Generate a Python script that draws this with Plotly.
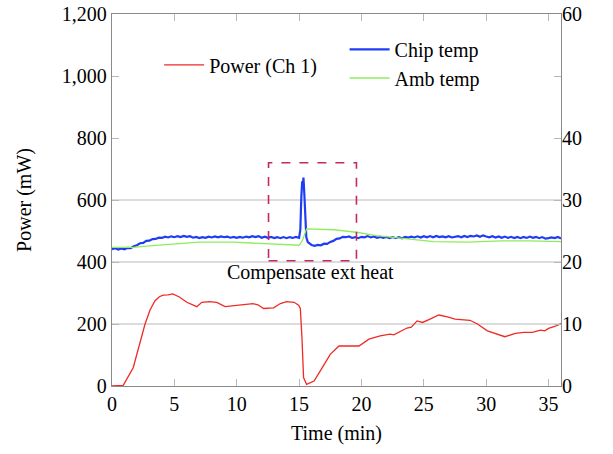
import plotly.graph_objects as go

# ---------------- data ----------------
power_t = [0.0, 0.9, 1.7, 2.2, 2.65, 3.05, 3.45, 3.8, 4.1, 4.5, 4.87, 5.4, 6.0, 6.8, 7.2, 7.8, 8.4,
           9.07, 10.0, 10.9, 11.3, 11.7, 12.15, 12.95, 13.5, 14.0, 14.6, 14.96, 15.1, 15.23, 15.36,
           15.6, 16.2, 16.7, 17.5, 18.2, 18.85, 19.8, 20.6, 21.5, 22.3, 22.6, 23.65, 24.0, 24.46,
           24.9, 25.5, 26.2, 26.9, 27.5, 28.7, 29.3, 30.1, 31.15, 31.5, 32.35, 33.0, 33.7, 34.36,
           34.7, 35.0, 35.5, 36.0]
power_mw = [0, 2, 59, 130, 200, 245, 275, 288, 293, 294, 297, 287, 270, 256, 270, 272, 270,
            256, 261, 264, 266, 262, 250, 252, 266, 272, 270, 261, 250, 156, 27,
            5, 16, 49, 102, 129, 129, 129, 151, 162, 167, 165, 187, 190, 210,
            205, 216, 229, 223, 216, 212, 200, 178, 162, 159, 170, 173, 173, 180,
            178, 186, 192, 201]

chip_t = [0.00, 0.25, 0.50, 0.75, 1.00, 1.25, 1.50, 1.75, 2.00, 2.25, 2.50, 2.75, 3.00, 3.25,
          3.50, 3.75, 4.00, 4.25, 4.50, 4.75, 5.00, 5.25, 5.50, 5.75, 6.00, 6.25, 6.50, 6.75,
          7.00, 7.25, 7.50, 7.75, 8.00, 8.25, 8.50, 8.75, 9.00, 9.25, 9.50, 9.75, 10.00, 10.25,
          10.50, 10.75, 11.00, 11.25, 11.50, 11.75, 12.00, 12.25, 12.50, 12.75, 13.00, 13.25,
          13.50, 13.75, 14.00, 14.25, 14.50, 14.75, 15.00, 15.10, 15.18, 15.25, 15.30, 15.35,
          15.42, 15.50, 15.58, 15.70, 15.85, 16.00, 16.25, 16.50, 16.75, 17.00, 17.25, 17.50,
          17.75, 18.00, 18.25, 18.50, 18.75, 19.00, 19.25, 19.50, 19.75, 20.00, 20.25, 20.50,
          20.75, 21.00, 21.25, 21.50, 21.75, 22.00, 22.25, 22.50, 22.75, 23.00, 23.25, 23.50,
          23.75, 24.00, 24.25, 24.50, 24.75, 25.00, 25.25, 25.50, 25.75, 26.00, 26.25, 26.50,
          26.75, 27.00, 27.25, 27.50, 27.75, 28.00, 28.25, 28.50, 28.75, 29.00, 29.25, 29.50,
          29.75, 30.00, 30.25, 30.50, 30.75, 31.00, 31.25, 31.50, 31.75, 32.00, 32.25, 32.50,
          32.75, 33.00, 33.25, 33.50, 33.75, 34.00, 34.25, 34.50, 34.75, 35.00, 35.25, 35.50,
          35.75, 36.00]
chip_c = [22.08, 22.22, 22.02, 22.18, 22.06, 22.28, 22.24, 22.55, 22.70, 23.02, 23.08, 23.42, 23.44,
          23.70, 23.72, 23.92, 23.88, 24.08, 23.96, 24.14, 24.00, 24.18, 24.02, 24.20, 24.06, 24.16,
          23.92, 24.04, 23.86, 24.00, 23.90, 24.08, 23.96, 24.12, 23.98, 24.14, 24.00, 24.08, 23.92,
          24.06, 23.90, 24.04, 23.92, 24.10, 23.98, 24.16, 24.02, 24.18, 23.92, 24.08, 23.90, 24.06,
          23.86, 24.02, 23.84, 24.02, 23.84, 24.02, 23.88, 24.06, 23.90, 25.2, 30.5, 33.0, 32.2,
          33.6, 31.0, 26.5, 24.0, 23.2, 22.9, 22.75, 22.60, 22.76, 22.70, 22.96, 22.92, 23.24,
          23.40, 23.74, 23.80, 24.06, 24.00, 24.12, 23.88, 24.02, 23.84, 24.06, 23.98, 24.18,
          23.96, 24.12, 23.90, 24.06, 23.88, 24.04, 23.84, 24.02, 23.84, 24.02, 23.82, 24.04,
          23.94, 24.08, 23.96, 24.14, 23.94, 24.16, 23.98, 24.18, 23.98, 24.20, 24.02, 24.14,
          23.98, 24.16, 23.96, 24.04, 24.18, 23.98, 24.20, 24.02, 24.22, 24.12, 24.28, 24.08,
          24.30, 24.12, 23.98, 24.16, 23.94, 24.12, 23.90, 24.10, 23.88, 24.06, 23.86, 24.04,
          23.84, 24.04, 23.88, 24.10, 23.90, 24.06, 23.84, 24.02, 23.76, 23.86, 23.98, 23.86,
          24.04, 23.80, 24.00, 23.90]

amb_t = [0.0, 1.7, 3.0, 5.0, 7.0, 9.7, 12.4, 15.0, 15.25, 15.6, 17.8, 19.6, 21.2, 23.1, 24.5,
         25.8, 28.5, 31.2, 33.5, 36.0]
amb_c = [22.35, 22.35, 22.6, 22.95, 23.2, 23.2, 22.9, 22.7, 23.4, 25.35, 25.2, 24.8, 24.25, 23.9,
         23.55, 23.3, 23.2, 23.4, 23.4, 23.3]

x_ticks = [0, 5, 10, 15, 20, 25, 30, 35]
power_ticks = [0, 200, 400, 600, 800, 1000, 1200]
power_tick_text = ["0", "200", "400", "600", "800", "1,000", "1,200"]
temp_ticks = [0, 10, 20, 30, 40, 60]
grid_vals = [200, 400, 600]

box_x = [12.55, 19.6]
box_y = [404, 720]
note_xy = [15.88, 367]

# ---------------- figure ----------------
FONT = "Liberation Serif"
FS = 20
RED, BLUE, GREEN = "#ee2b25", "#1f3df2", "#8fec5c"

fig = go.Figure()
fig.add_trace(go.Scatter(x=power_t, y=power_mw, mode="lines", name="Power (Ch 1)",
                         line=dict(color=RED, width=1.3), legend="legend"))
fig.add_trace(go.Scatter(x=chip_t, y=chip_c, mode="lines", name="Chip temp", yaxis="y2",
                         line=dict(color=BLUE, width=2.2), legend="legend2"))
fig.add_trace(go.Scatter(x=amb_t, y=amb_c, mode="lines", name="Amb temp", yaxis="y2",
                         line=dict(color=GREEN, width=1.3), legend="legend3"))
# invisible trace to activate the grid axis
fig.add_trace(go.Scatter(x=[None], y=[None], yaxis="y3", showlegend=False, hoverinfo="skip"))

fig.add_shape(type="rect", xref="x", yref="y", x0=box_x[0], x1=box_x[1], y0=box_y[0], y1=box_y[1],
              line=dict(color="#c42a5c", width=1.6, dash="dash"))
fig.add_annotation(x=note_xy[0], y=note_xy[1], xref="x", yref="y", text="Compensate ext heat",
                   showarrow=False, font=dict(family=FONT, size=FS, color="black"))

axis_common = dict(showline=True, linecolor="#8a8a8a", linewidth=1.3, ticks="inside",
                   ticklen=7, tickcolor="#b8b8b8", tickwidth=1.3, zeroline=False, automargin=False,
                   tickfont=dict(family=FONT, size=FS, color="black"))

legend_common = dict(font=dict(family=FONT, size=FS, color="black"), bgcolor="rgba(0,0,0,0)",
                     xanchor="left", yanchor="middle", itemwidth=40)

fig.update_layout(
    width=613, height=454,
    margin=dict(l=112, r=52, t=14, b=68, autoexpand=False),
    paper_bgcolor="white", plot_bgcolor="white",
    font=dict(family=FONT, size=FS, color="black"),
    xaxis=dict(range=[0, 36], tickvals=x_ticks, mirror="ticks", showgrid=False,
               title=dict(text="Time (min)", standoff=11, font=dict(family=FONT, size=FS)),
               **axis_common),
    yaxis=dict(range=[0, 1200], tickvals=power_ticks, ticktext=power_tick_text, mirror="ticks",
               showgrid=False,
               title=dict(text="Power (mW)", standoff=24, font=dict(family=FONT, size=FS)),
               **axis_common),
    yaxis2=dict(range=[0, 60], tickvals=temp_ticks, overlaying="y", side="right",
                showline=False, ticks="", showgrid=False, zeroline=False, automargin=False,
                tickfont=dict(family=FONT, size=FS, color="black")),
    yaxis3=dict(range=[0, 1200], tickvals=grid_vals, overlaying="y", showticklabels=False,
                showgrid=True, gridcolor="#dcdcdc", gridwidth=1.5, zeroline=False, ticks="",
                automargin=False),
    legend=dict(x=0.105, y=0.863, **legend_common),
    legend2=dict(x=0.518, y=0.905, **legend_common),
    legend3=dict(x=0.518, y=0.828, **legend_common),
    showlegend=True,
)

# remove the default 8px page margin so the figure sits at the window origin
fig.write_html("out.html", config={"displayModeBar": False},
               post_script="document.body.style.margin='0';")
